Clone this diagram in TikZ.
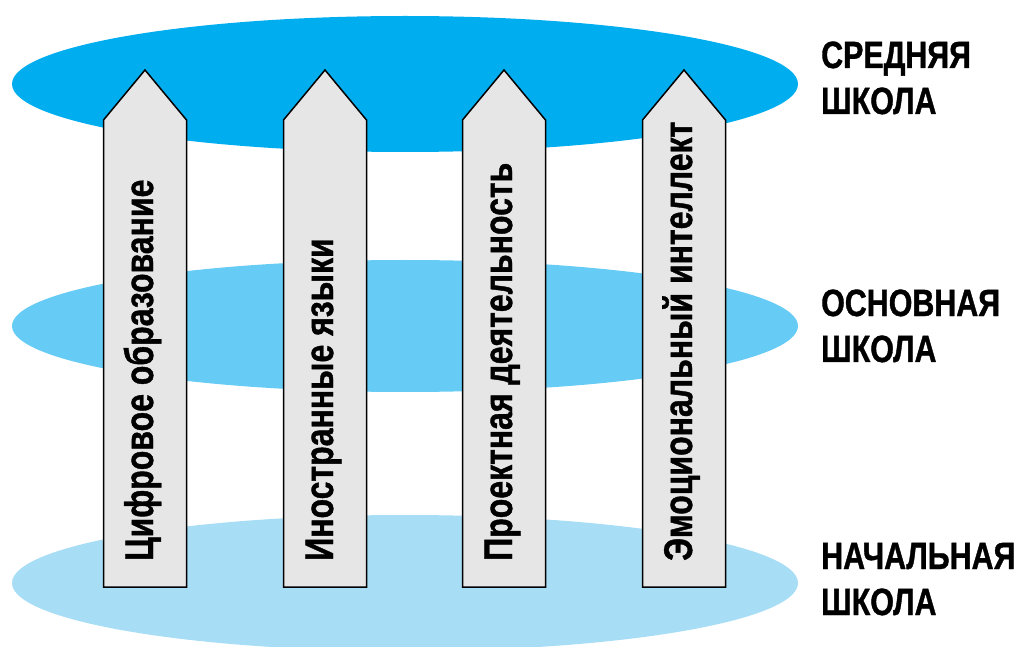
\documentclass[tikz,border=0pt]{standalone}
\usepackage{fontspec}
\newfontfamily\narrowfont[FakeStretch=0.8,FakeBold=1]{Liberation Sans Bold}
\definecolor{topblue}{RGB}{0,174,239}
\definecolor{midblue}{RGB}{102,204,245}
\definecolor{lowblue}{RGB}{168,221,246}
\definecolor{arrowgray}{RGB}{230,230,230}
\tikzset{
    level/.style={inner sep=0pt, align=left, anchor=base west,
        font=\narrowfont\fontsize{38}{46}\selectfont},
    subject/.style={inner sep=0pt, rotate=90, anchor=base west,
        font=\narrowfont\fontsize{40}{46}\selectfont},
    pillar/.style={fill=arrowgray, draw=black, line width=1.5pt, line join=miter}
}

\begin{document}
\begin{tikzpicture}[x=1pt,y=-1pt]
	    \useasboundingbox (0,0) rectangle (1029,647);
	    % school levels
	    \fill[lowblue] (405,583) ellipse [x radius=393, y radius=68];
	    \fill[midblue] (405,326) ellipse [x radius=393, y radius=66];
	    \fill[topblue] (405,84) ellipse [x radius=393, y radius=68];
	    % pillars
	    \foreach \xc in {145,325,504,684}
		    \draw[pillar] (\xc-41.5,587) -- (\xc-41.5,120) -- (\xc,70)
		          -- (\xc+41.5,120) -- (\xc+41.5,587) -- cycle;
	    \node[subject] (digital) at (153,561) {Цифровое образование};
	    \node[subject] (languages) at (333,561) {Иностранные языки};
	    \node[subject] (projects) at (512,561) {Проектная деятельность};
	    \node[subject] (emotions) at (692,561) {Эмоциональный интеллект};
	    \node[level] (high) at (821,114) {СРЕДНЯЯ\\ШКОЛА};
	    \node[level] (middle) at (821,362) {ОСНОВНАЯ\\ШКОЛА};
	    \node[level] (primary) at (821,615) {НАЧАЛЬНАЯ\\ШКОЛА};
	\end{tikzpicture}
\end{document}
